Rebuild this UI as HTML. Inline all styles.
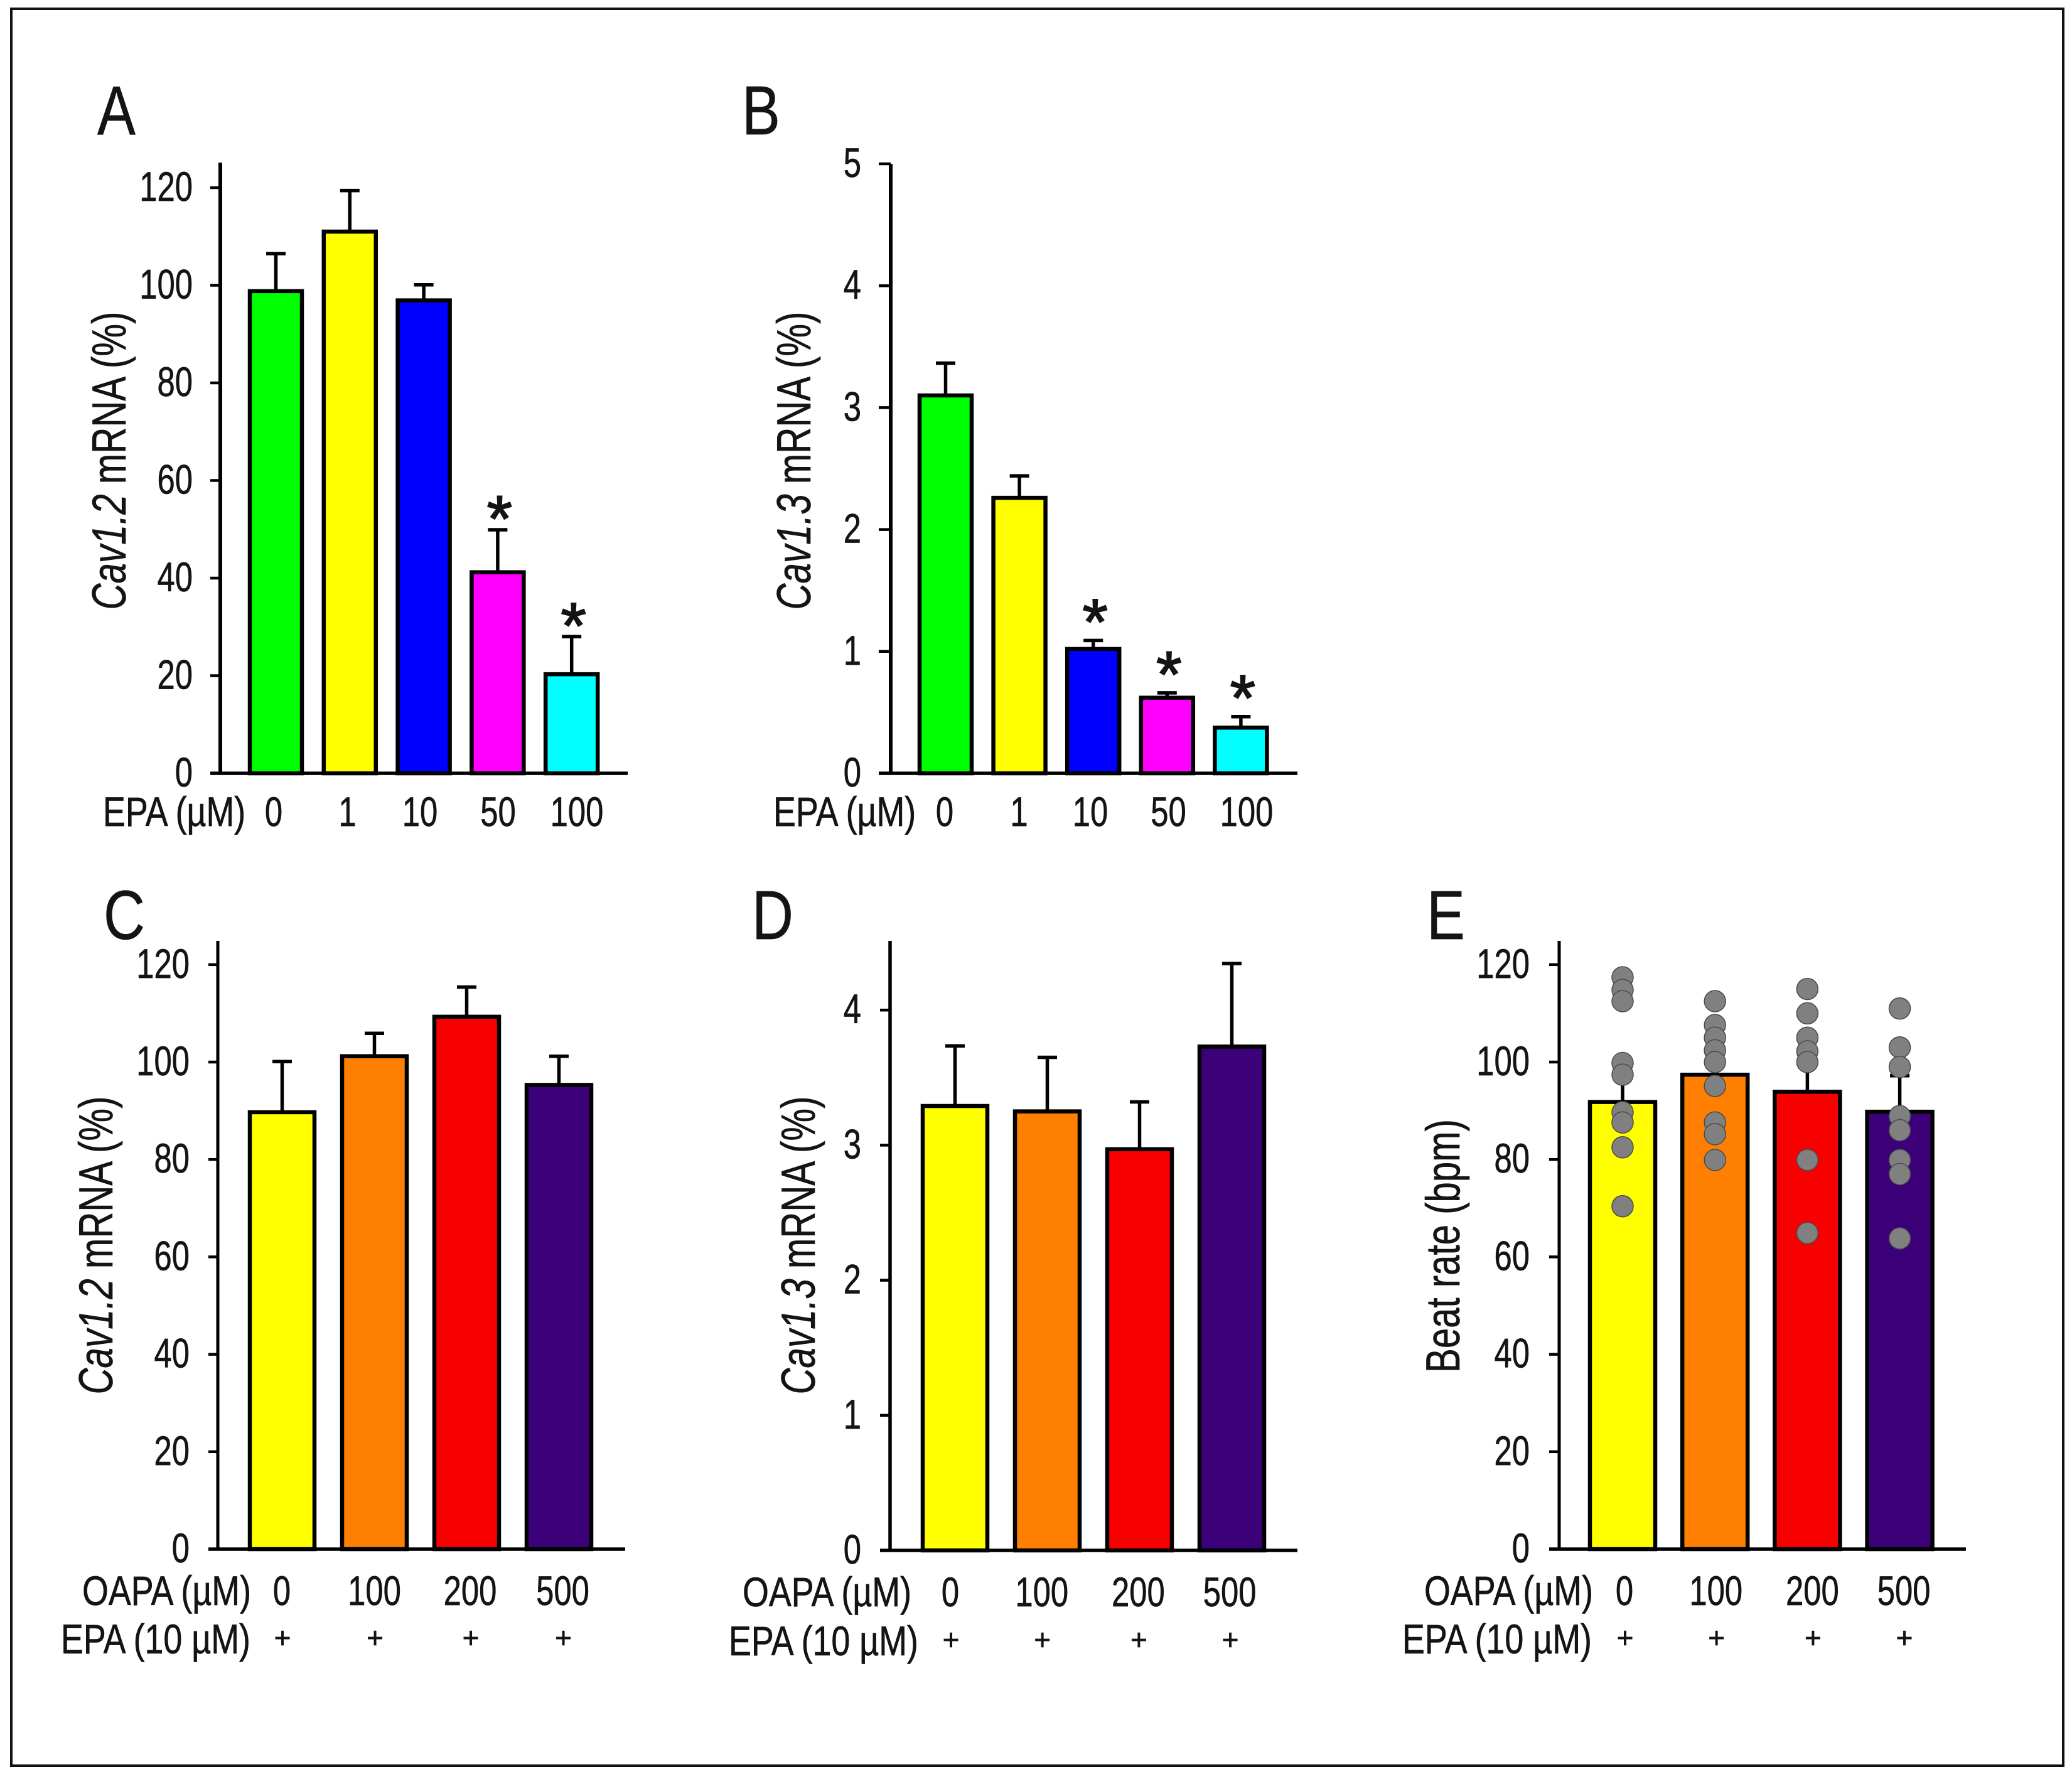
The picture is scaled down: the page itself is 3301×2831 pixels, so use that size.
<!DOCTYPE html>
<html lang="en">
<head>
<meta charset="utf-8">
<title>Cav1.2 and Cav1.3 mRNA and beat rate panels</title>
<style>
  html, body { margin: 0; padding: 0; background: #fff; }
  svg { display: block; font-family: "Liberation Sans", Arial, sans-serif; }
  text { fill: #141414; stroke: #141414; stroke-width: 0.7px; }
</style>
</head>
<body>
<svg id="figure" xmlns="http://www.w3.org/2000/svg" width="3301" height="2831" viewBox="0 0 3301 2831">
  <rect x="0" y="0" width="3301" height="2831" fill="#ffffff"/>
  <rect x="18" y="14" width="3269" height="2799" fill="none" stroke="#111" stroke-width="4"/>
</svg>
<script>
// ---------- chart data ----------
const aCategories = ['0', '1', '10', '50', '100'];
const aValues = [98.8, 111, 96.9, 41.2, 20.3];
const aErrors = [106.5, 119.4, 100.1, 49.9, 28];
const aStars = [false, false, false, true, true];
const aTicks = [0, 20, 40, 60, 80, 100, 120];

const bCategories = ['0', '1', '10', '50', '100'];
const bValues = [3.10, 2.26, 1.02, 0.62, 0.375];
const bErrors = [3.365, 2.44, 1.09, 0.66, 0.465];
const bStars = [false, false, true, true, true];
const bTicks = [0, 1, 2, 3, 4, 5];

const cCategories = ['0', '100', '200', '500'];
const cValues = [89.7, 101.2, 109.3, 95.3];
const cErrors = [100.1, 105.9, 115.4, 101.2];
const cTicks = [0, 20, 40, 60, 80, 100, 120];

const dCategories = ['0', '100', '200', '500'];
const dValues = [3.29, 3.25, 2.97, 3.73];
const dErrors = [3.735, 3.65, 3.32, 4.345];
const dTicks = [0, 1, 2, 3, 4];

const eCategories = ['0', '100', '200', '500'];
const eValues = [91.8, 97.4, 93.9, 89.8];
const eErrors = [100, 102, 101, 97.2];
const eTicks = [0, 20, 40, 60, 80, 100, 120];
const ePoints0 = [117.4, 114.8, 112.5, 99.8, 97.4, 89.7, 87.6, 82.5, 70.4];
const ePoints1 = [112.5, 107.6, 105, 102.4, 100, 95.1, 87.6, 85.2, 79.9];
const ePoints2 = [115, 110, 105, 102.2, 100, 79.9, 64.9];
const ePoints3 = [111, 103, 99, 88.9, 86, 79.9, 77, 63.8];

const colorsEpa = ['#00ff00', '#ffff00', '#0000ff', '#ff00ff', '#00ffff'];
const colorsOapa = ['#ffff00', '#ff8000', '#f80000', '#3c0078'];

// ---------- drawing ----------
const NS = 'http://www.w3.org/2000/svg';
const root = document.getElementById('figure');
const TICK_SIZE = 66, TICK_SX = 0.77, NAME_SX = 0.815, TITLE_SIZE = 76, TITLE_SX = 0.765;

function yScale(p, v) { return p.y0 - (v - p.vMin) * p.pxPerUnit; }
function barLeft(p, i) { return p.barX + i * p.barStep; }
function barCenter(p, i) { return barLeft(p, i) + p.barW / 2; }
function labelCenter(p, i) { return p.labelX + i * p.labelStep + p.labelNudge[i]; }

function shape(parent, tag, attrs) {
  const el = document.createElementNS(NS, tag);
  for (const k in attrs) el.setAttribute(k, attrs[k]);
  parent.appendChild(el);
  return el;
}
function label(parent, x, y, str, size, sx, anchor, rot) {
  const el = document.createElementNS(NS, 'text');
  el.setAttribute('transform', 'translate(' + x + ',' + y + ')' + (rot ? ' rotate(-90)' : '') + ' scale(' + sx + ',1)');
  el.setAttribute('font-size', size);
  el.setAttribute('text-anchor', anchor);
  el.textContent = str;
  parent.appendChild(el);
  return el;
}

function drawPanel(p) {
  const g = shape(root, 'g', {});
  
  

  // panel letter
  const letter = label(g, p.letterX, p.letterY, p.id.toUpperCase(), 110, 0.83, 'start', false);
  
  

  // error bars (drawn behind the bars)
  p.errors.forEach(function (top, i) {
    const cx = barCenter(p, i);
    const yv = yScale(p, p.values[i]);
    const yt = yScale(p, top);
    const stem = shape(g, 'line', { x1: cx, x2: cx, y1: yv, y2: yt, stroke: '#000', 'stroke-width': 5.5 });
    
    
    const cap = shape(g, 'line', { x1: cx - 15.5, x2: cx + 15.5, y1: yt, y2: yt, stroke: '#000', 'stroke-width': 5.5 });
    
    
  });

  // bars
  p.values.forEach(function (v, i) {
    const bar = shape(g, 'rect', {
      x: barLeft(p, i) + 1, y: yScale(p, v), width: p.barW - 2,
      height: yScale(p, p.vMin) - yScale(p, v),
      fill: p.colors[i], stroke: '#000', 'stroke-width': 6.5
    });
    
    
  });

  // significance asterisks
  if (p.stars) p.stars.forEach(function (on, i) {
    if (!on) return;
    const s = label(g, barCenter(p, i) + 3, yScale(p, p.errors[i]) + p.starOffset + 58, '*', 104, 1, 'middle', false);
    s.setAttribute('stroke-width', '2');
    s.style.strokeWidth = '2px';
    
    
  });

  // individual points
  if (p.points) p.points.forEach(function (series, i) {
    series.forEach(function (v) {
      const dot = shape(g, 'circle', {
        cx: barCenter(p, i), cy: yScale(p, v), r: 17,
        fill: '#808080', stroke: '#4a4a4a', 'stroke-width': 1.5
      });
      
      
    });
  });

  // y axis
  const yAxis = shape(g, 'line', { x1: p.axisX, x2: p.axisX, y1: p.axisTop, y2: yScale(p, p.vMin) + 2, stroke: '#000', 'stroke-width': p.axisW });
  
  

  p.ticks.forEach(function (t) {
    const y = yScale(p, t);
    const tick = shape(g, 'line', { x1: p.tickLeft, x2: p.axisX, y1: y, y2: y, stroke: '#000', 'stroke-width': 4.5 });
    
    
    const tl = label(g, p.tickLabelX, y + 21, String(t), TICK_SIZE, TICK_SX, 'end', false);
    
    
  });

  // x axis
  const xAxis = shape(g, 'line', { x1: p.tickLeft, x2: p.axisRight, y1: yScale(p, p.vMin), y2: yScale(p, p.vMin), stroke: '#000', 'stroke-width': 5.5 });
  
  

  // y title
  const title = label(g, p.titleX, p.titleY, '', TITLE_SIZE, TITLE_SX, 'middle', true);
  
  
  if (p.titleItalic) {
    const it = document.createElementNS(NS, 'tspan');
    it.setAttribute('font-style', 'italic');
    it.textContent = p.titleItalic;
    title.appendChild(it);
  }
  title.appendChild(document.createTextNode(p.titleRest));

  // x category labels
  const xName = label(g, p.xNameX, p.xBase, p.xName, TICK_SIZE, NAME_SX, 'start', false);
  
  
  p.categories.forEach(function (c, i) {
    const cl = label(g, labelCenter(p, i), p.xBase, c, TICK_SIZE, TICK_SX, 'middle', false);
    
    
  });

  // EPA row
  if (p.epaX !== undefined) {
    const epa = label(g, p.epaX, p.epaBase, 'EPA (10 \u00b5M)', TICK_SIZE, NAME_SX, 'start', false);
    
    
    p.categories.forEach(function (c, i) {
      const plus = label(g, labelCenter(p, i) + 1, p.epaBase - 9, '+', 46, 1, 'middle', false);
      
      
    });
  }
}

const topScale = 7.775, botScale = 7.76;

drawPanel({
  id: 'a', categories: aCategories, values: aValues, errors: aErrors, stars: aStars, ticks: aTicks, colors: colorsEpa,
  vMin: 0, y0: 1232, pxPerUnit: topScale, barX: 397, barW: 85, barStep: 117.8, starOffset: -40,
  axisX: 351, axisW: 6, axisTop: 259, axisRight: 1000, tickLeft: 335, tickLabelX: 307,
  titleX: 200, titleY: 734, titleItalic: 'Cav1.2', titleRest: ' mRNA (%)',
  xName: 'EPA (\u00b5M)', xNameX: 164, xBase: 1316, labelX: 434, labelStep: 120.5, labelNudge: [2, -1, -6, -2, 3],
  letterX: 155, letterY: 214
});
drawPanel({
  id: 'b', categories: bCategories, values: bValues, errors: bErrors, stars: bStars, ticks: bTicks, colors: colorsEpa,
  vMin: 0, y0: 1232, pxPerUnit: 194.2, barX: 1464, barW: 85, barStep: 117.6, starOffset: -52,
  axisX: 1419, axisW: 6, axisTop: 261, axisRight: 2067, tickLeft: 1400, tickLabelX: 1372,
  titleX: 1291, titleY: 734, titleItalic: 'Cav1.3', titleRest: ' mRNA (%)',
  xName: 'EPA (\u00b5M)', xNameX: 1232, xBase: 1316, labelX: 1503, labelStep: 120.5, labelNudge: [2, 0, -7, -3, 1],
  letterX: 1182, letterY: 214
});
drawPanel({
  id: 'c', categories: cCategories, values: cValues, errors: cErrors, ticks: cTicks, colors: colorsOapa,
  vMin: 0, y0: 2468, pxPerUnit: botScale, barX: 397, barW: 105, barStep: 147,
  axisX: 347, axisW: 5, axisTop: 1499, axisRight: 996, tickLeft: 332, tickLabelX: 302,
  titleX: 179, titleY: 1984, titleItalic: 'Cav1.2', titleRest: ' mRNA (%)',
  xName: 'OAPA (\u00b5M)', xNameX: 131, xBase: 2557, labelX: 448, labelStep: 149.5, labelNudge: [1, -1, 2, 0],
  epaX: 97, epaBase: 2634, letterX: 165, letterY: 1496
});
drawPanel({
  id: 'd', categories: dCategories, values: dValues, errors: dErrors, ticks: dTicks, colors: colorsOapa,
  vMin: 0, y0: 2470, pxPerUnit: 215.2, barX: 1469, barW: 105, barStep: 147,
  axisX: 1418, axisW: 5.5, axisTop: 1499, axisRight: 2067, tickLeft: 1402, tickLabelX: 1372,
  titleX: 1298, titleY: 1984, titleItalic: 'Cav1.3', titleRest: ' mRNA (%)',
  xName: 'OAPA (\u00b5M)', xNameX: 1183, xBase: 2559, labelX: 1513, labelStep: 148.7, labelNudge: [1, -2, 3, 0],
  epaX: 1161, epaBase: 2637, letterX: 1198, letterY: 1496
});
drawPanel({
  id: 'e', categories: eCategories, values: eValues, errors: eErrors, ticks: eTicks, colors: colorsOapa,
  points: [ePoints0, ePoints1, ePoints2, ePoints3],
  vMin: 0, y0: 2468, pxPerUnit: botScale, barX: 2532, barW: 106, barStep: 147.2,
  axisX: 2484, axisW: 5, axisTop: 1499, axisRight: 3132, tickLeft: 2468, tickLabelX: 2437,
  titleX: 2325, titleY: 1985, titleItalic: '', titleRest: 'Beat rate (bpm)',
  xName: 'OAPA (\u00b5M)', xNameX: 2269, xBase: 2557, labelX: 2587, labelStep: 148.7, labelNudge: [1, -2, 3, 0],
  epaX: 2234, epaBase: 2634, letterX: 2273, letterY: 1496
});
</script>
</body>
</html>
